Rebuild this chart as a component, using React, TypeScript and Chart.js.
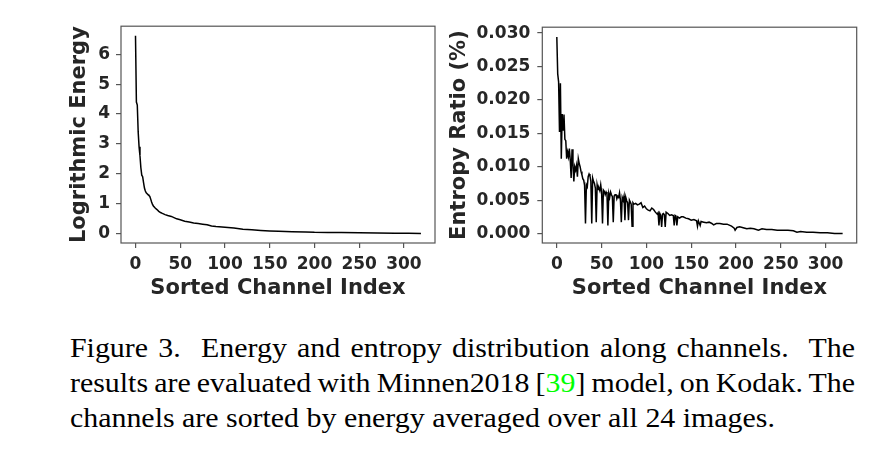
import React, { useEffect, useRef } from 'react';
import { Chart, registerables } from 'chart.js';

Chart.register(...registerables);

// channel index ticks shared by both panels
const xTicks = [0, 50, 100, 150, 200, 250, 300];
const energyTicks = [0, 1, 2, 3, 4, 5, 6];
const entropyTicks = [0, 0.005, 0.01, 0.015, 0.02, 0.025, 0.03];

// left panel: logarithmic energy per sorted channel
const energyIdx = [
  0, 1, 2, 3, 4, 5, 6, 7, 8, 9, 10, 11, 12, 13, 14, 15, 16, 17, 18, 19, 20,
  22, 24, 26, 28, 30, 33, 36, 40, 43, 46, 50, 55, 60, 65, 70, 75, 80, 85, 90,
  100, 110, 120, 130, 140, 150, 160, 175, 190, 200, 215, 230, 250, 270, 290, 305, 319,
];
const energyVal = [
  6.62, 4.4, 4.3, 3.4, 2.9, 2.6, 2.2, 1.95, 1.9, 1.7, 1.52, 1.42, 1.36, 1.33, 1.3, 1.27, 1.24, 1.15, 1.05, 0.97, 0.92,
  0.85, 0.8, 0.74, 0.7, 0.67, 0.63, 0.6, 0.57, 0.53, 0.49, 0.46, 0.41, 0.38, 0.35, 0.33, 0.31, 0.29, 0.25, 0.23,
  0.21, 0.18, 0.14, 0.12, 0.1, 0.085, 0.075, 0.06, 0.05, 0.04, 0.035, 0.03, 0.02, 0.015, 0.01, 0.005, 0.0,
];

// right panel: entropy ratio per sorted channel
const entropyIdx = [
  0, 1, 2, 3, 4, 5, 6, 7, 8, 9, 10, 11, 12, 13, 14, 15, 16, 17, 18, 19,
  20, 21, 22, 23, 24, 25, 26, 27, 28, 29, 30, 31, 32, 33, 34, 35, 36, 37, 38, 39,
  40, 41, 42, 43, 44, 45, 46, 47, 48, 49, 50, 51, 52, 53, 54, 55, 56, 57, 58, 59,
  60, 61, 62, 63, 64, 65, 66, 67, 68, 69, 70, 71, 72, 73, 74, 75, 76, 77, 78, 79,
  80, 81, 82, 83, 84, 85, 86, 88, 90, 92, 94, 96, 98, 100, 102, 104, 106, 108, 110, 112,
  113, 114, 115, 116, 117, 118, 119, 120, 121, 122, 124, 126, 128, 130, 131, 132, 133, 134, 135, 137,
  139, 141, 144, 147, 150, 153, 156, 157, 158, 160, 161, 164, 167, 170, 173, 175, 178, 182, 186, 190,
  195, 198, 199, 201, 204, 207, 212, 216, 220, 225, 229, 234, 240, 246, 253, 258, 264, 268, 272, 279,
  286, 294, 302, 310, 319,
];
const entropyVal = [
  0.0294, 0.0239, 0.0227, 0.0152, 0.0225, 0.0112, 0.0179, 0.0155, 0.0178, 0.0141, 0.0139, 0.0112, 0.0122, 0.0115, 0.0127, 0.011, 0.0083, 0.0126, 0.0105, 0.0078,
  0.01, 0.0095, 0.0102, 0.0085, 0.0112, 0.0105, 0.01, 0.0093, 0.0088, 0.0082, 0.008, 0.0072, 0.0015, 0.0073, 0.007, 0.0085, 0.0089, 0.0086, 0.0078, 0.0015,
  0.0083, 0.0078, 0.0075, 0.0068, 0.0017, 0.0073, 0.0066, 0.0068, 0.0064, 0.0073, 0.0062, 0.0015, 0.0065, 0.0063, 0.0058, 0.0062, 0.0059, 0.0012, 0.006, 0.0054,
  0.0062, 0.0058, 0.0055, 0.0017, 0.0056, 0.0058, 0.0059, 0.0052, 0.0056, 0.0054, 0.0061, 0.005, 0.0017, 0.0054, 0.005, 0.0056, 0.002, 0.0054, 0.0049, 0.0046,
  0.002, 0.005, 0.0047, 0.0044, 0.0011, 0.0046, 0.0044, 0.0045, 0.0043, 0.0044, 0.0046, 0.0039, 0.0041, 0.0037, 0.0035, 0.0034, 0.0038, 0.0036, 0.0032, 0.0029,
  0.0031, 0.0012, 0.003, 0.0027, 0.001, 0.0029, 0.003, 0.0028, 0.001, 0.0032, 0.003, 0.0027, 0.0028, 0.0027, 0.0012, 0.0027, 0.0026, 0.0012, 0.0025, 0.0023,
  0.0025, 0.0025, 0.0023, 0.0022, 0.002, 0.0021, 0.0019, 0.0011, 0.0019, 0.0012, 0.0018, 0.0017, 0.0016, 0.0017, 0.0015, 0.0013, 0.0015, 0.0015, 0.0014, 0.0014,
  0.0011, 0.0008, 0.0005, 0.0009, 0.001, 0.0009, 0.0007, 0.0008, 0.0007, 0.0005, 0.0007, 0.0006, 0.0006, 0.0005, 0.0005, 0.0005, 0.0004, 0.0002, 0.0003, 0.0002,
  0.0002, 0.0001, 0.0001, 0.0, 0.0,
];

const ink = '#262626';
const spine = '#555555';
const tickFont = { family: 'DejaVu Sans', weight: 'bold' as const, size: 17 };
const labelFont = { family: 'DejaVu Sans', weight: 'bold' as const, size: 21 };

// matplotlib style closed box around the axes
const framePlugin = {
  id: 'frame',
  afterDatasetsDraw(chart: Chart) {
    const { ctx, chartArea: a } = chart;
    ctx.save();
    ctx.strokeStyle = spine;
    ctx.lineWidth = 1.2;
    ctx.strokeRect(a.left, a.top, a.right - a.left, a.bottom - a.top);
    ctx.restore();
  },
};

type PanelProps = {
  idx: number[];
  vals: number[];
  yMin: number;
  yMax: number;
  yTicks: number[];
  yLabel: string;
  yAxisWidth: number;
  rightPad: number;
  tickPad: number;
  digits: number;
  left: number;
  width: number;
};

function Panel(p: PanelProps) {
  const canvas = useRef<HTMLCanvasElement>(null);

  useEffect(() => {
    const points = p.idx.map((x, i) => ({ x, y: p.vals[i] }));
    const chart = new Chart(canvas.current!, {
      type: 'line',
      data: {
        datasets: [{
          data: points,
          borderColor: '#000000',
          borderWidth: 1.5,
          pointRadius: 0,
          tension: 0,
          fill: false,
        }],
      },
      options: {
        animation: false,
        responsive: true,
        maintainAspectRatio: false,
        layout: { padding: { top: 12.3, right: p.rightPad, left: 0, bottom: 0 } },
        plugins: { legend: { display: false }, tooltip: { enabled: false } },
        scales: {
          x: {
            type: 'linear',
            min: -16.2,
            max: 334.7,
            afterBuildTicks: (s: any) => { s.ticks = xTicks.map((v) => ({ value: v })); },
            afterFit: (s: any) => { s.height = 67; },
            grid: { display: true, drawOnChartArea: false, drawTicks: true, tickLength: 5, color: spine, lineWidth: 1.2 },
            border: { display: false },
            ticks: { color: ink, font: tickFont, padding: 6, maxRotation: 0, autoSkip: false },
            title: { display: true, text: 'Sorted Channel Index', color: ink, font: labelFont, padding: { top: 0, bottom: 9 } },
          },
          y: {
            type: 'linear',
            min: p.yMin,
            max: p.yMax,
            afterBuildTicks: (s: any) => { s.ticks = p.yTicks.map((v) => ({ value: v })); },
            afterFit: (s: any) => { s.width = p.yAxisWidth; },
            grid: { display: true, drawOnChartArea: false, drawTicks: true, tickLength: 5, color: spine, lineWidth: 1.2 },
            border: { display: false },
            ticks: {
              color: ink,
              font: tickFont,
              padding: p.tickPad,
              autoSkip: false,
              callback: (v: any) => Number(v).toFixed(p.digits),
            },
            title: { display: true, text: p.yLabel, color: ink, font: labelFont, padding: { top: 7, bottom: 0 } },
          },
        },
      },
      plugins: [framePlugin],
    });
    return () => {
      chart.destroy();
    };
  }, []);

  return (
    <div style={{ position: 'absolute', left: p.left, top: 10, width: p.width, height: 300 }}>
      <canvas ref={canvas} />
    </div>
  );
}

const stretch = 1.107;
const justified: React.CSSProperties = { textAlign: 'justify', textAlignLast: 'justify' as any };

export default function App() {
  return (
    <div style={{ position: 'absolute', left: 0, top: 0, width: 890, height: 459, background: '#ffffff', overflow: 'hidden' }}>
      <Panel
        idx={energyIdx}
        vals={energyVal}
        yMin={-0.32}
        yMax={6.94}
        yTicks={energyTicks}
        yLabel="Logrithmic Energy"
        yAxisWidth={61}
        rightPad={5}
        tickPad={6}
        digits={0}
        left={60}
        width={380}
      />
      <Panel
        idx={entropyIdx}
        vals={entropyVal}
        yMin={-0.00142}
        yMax={0.03088}
        yTicks={entropyTicks}
        yLabel="Entropy Ratio (%)"
        yAxisWidth={102.3}
        rightPad={13.3}
        tickPad={7}
        digits={3}
        left={440}
        width={430}
      />
      <div
        style={{
          position: 'absolute',
          left: 70,
          top: 330.7,
          width: 785 / stretch,
          transform: `scaleX(${stretch})`,
          transformOrigin: 'left top',
          fontFamily: '"Liberation Serif", "Times New Roman", serif',
          fontSize: 27,
          lineHeight: '35px',
          color: '#000000',
        }}
      >
        <div style={justified}>Figure 3.&nbsp; Energy and entropy distribution along channels.&nbsp; The</div>
        <div style={{ ...justified, wordSpacing: -3 }}>
          results are evaluated with Minnen2018 [<span style={{ color: '#00ff00' }}>39</span>] model, on Kodak. The
        </div>
        <div style={{ textAlign: 'left' }}>channels are sorted by energy averaged over all 24 images.</div>
      </div>
    </div>
  );
}
